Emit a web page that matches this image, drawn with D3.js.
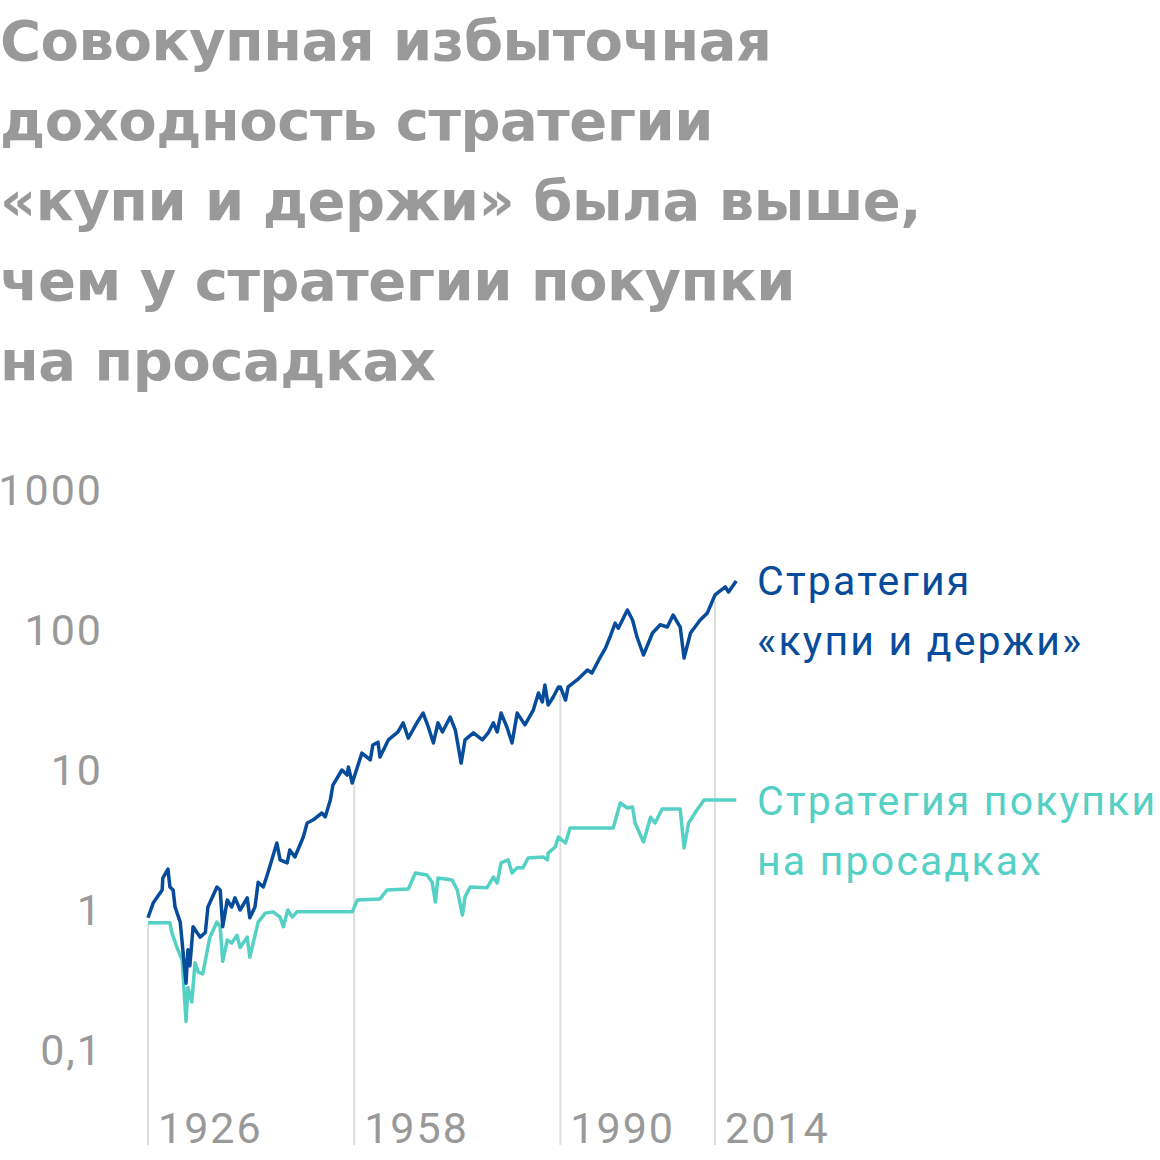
<!DOCTYPE html>
<html><head><meta charset="utf-8">
<script src="https://cdn.jsdelivr.net/npm/d3@7"></script>
<style>body{margin:0;background:#fff}</style>
</head><body><svg id="c" width="1160" height="1160"></svg>
<script>
const titleLines = ["Совокупная избыточная", "доходность стратегии", "«купи и держи» была выше,", "чем у стратегии покупки", "на просадках"];
const yTicks = [0.1, 1, 10, 100, 1000];
const xTicks = [1926, 1958, 1990, 2014];

const buyHoldYears = [1926,1926.8,1928.2,1928.3,1929.1,1929.4,1929.9,1930.2,1931,1931.9,1932.2,1932.5,1933,1933.6,1934.1,1934.9,1935.3,1936.7,1937.2,1937.6,1938.3,1939,1939.5,1940.3,1941.4,1941.8,1942.6,1943.1,1943.9,1944.6,1946,1946.5,1947.6,1948,1948.8,1950.1,1950.7,1951.6,1953,1953.5,1954.3,1954.7,1956.1,1956.9,1957.1,1957.7,1958.5,1959.2,1960.5,1960.9,1961.7,1962,1963.3,1964.8,1965.6,1966.4,1967.8,1968.7,1969.5,1970.3,1971,1971.7,1972.9,1973.7,1974.6,1975.2,1976.5,1977.9,1978.8,1979.6,1980.2,1980.8,1981.7,1982.5,1983.3,1984.5,1985.8,1986.6,1987.2,1987.6,1988.1,1988.9,1989.7,1990,1990.8,1991.2,1992.6,1994.2,1994.9,1996.2,1997,1997.7,1998.5,1999,2000.4,2001.2,2001.9,2002.9,2004.3,2005.5,2006.6,2007.5,2008.6,2009.2,2010.2,2011.7,2012.8,2014,2015.6,2016.1,2017.3];
const buyHoldValues = [0.88,1.12,1.39,1.69,1.96,1.46,1.39,1.05,0.82,0.30,0.52,0.40,0.76,0.69,0.64,0.69,1.05,1.46,1.39,0.76,1.18,1.05,1.22,1.0,1.22,0.88,1.05,1.58,1.46,1.84,3.01,2.28,2.17,2.68,2.39,3.32,4.18,4.39,4.93,4.62,6.11,7.81,10,9.2,10.5,8.07,10.5,13.2,11.8,15.1,15.8,12.4,16.4,18.7,21.7,16.9,22.0,25.5,20.3,15.6,21.7,18.7,23.9,19.3,11.2,16.4,18.4,16.4,18.4,21.7,18.7,25.5,20.3,15.6,25.5,21.0,26.8,35.5,30.6,40.5,29.1,33.2,39.2,39.2,31.6,39.2,44.0,51.8,49.3,64.1,74.3,89.1,112,103,139,118,89.1,66.3,95.2,109,105,128,105,63.1,95.2,118,132,178,203,187,224];

const dipYears = [1926,1929.4,1929.7,1930.5,1931.3,1931.9,1932.2,1932.8,1933.3,1933.8,1934.5,1935.6,1936.7,1937.2,1937.6,1938.3,1939,1939.8,1940.3,1941.4,1941.8,1943.1,1944.2,1945.4,1946.5,1947,1947.7,1948.4,1949.1,1957.7,1958.5,1962,1963.1,1966.4,1967.5,1969.3,1970.1,1970.6,1971,1973.2,1974,1974.8,1975.2,1976,1978.6,1979.6,1980.2,1980.8,1981.9,1982.5,1983.3,1984.2,1985,1987.3,1988,1988.1,1989.2,1989.7,1990.8,1991.5,1998.2,1999.3,2000.4,2001.2,2001.6,2002.9,2004,2004.7,2005.8,2008.6,2009.2,2009.9,2011.2,2012.3,2017.3];
const dipValues = [0.81,0.81,0.69,0.54,0.44,0.16,0.28,0.22,0.42,0.36,0.35,0.64,0.82,0.76,0.43,0.61,0.58,0.66,0.54,0.64,0.46,0.82,0.95,0.97,0.89,0.76,1.0,0.89,0.97,0.97,1.18,1.2,1.39,1.41,1.84,1.78,1.58,1.14,1.69,1.64,1.39,0.92,1.24,1.46,1.44,1.72,1.56,2.17,2.28,1.84,2.0,2.0,2.35,2.39,2.28,2.55,2.82,3.32,3.01,3.85,3.85,5.81,5.35,5.44,4.18,3.06,4.6,4.18,5.26,5.26,2.77,4.18,5.18,6.11,6.11];

const blue = "#074c9b", teal = "#55d0c5", grey = "#999999";
const svg = d3.select("#c");
const font = "Roboto, 'Noto Sans', sans-serif";

svg.append("g").selectAll("text").data(titleLines).enter().append("text")
  .attr("x", 0).attr("y", (d, i) => 60 + i * 80)
  .attr("font-family", "'DejaVu Sans', sans-serif").attr("font-weight", 700).attr("font-size", 56)
  .attr("letter-spacing", -0.5)
  .attr("fill", grey).text(d => d);

const x = d3.scaleLinear().domain([1926, 2014]).range([148, 715]);
const y = d3.scaleLog().domain([0.1, 1000]).range([1050, 490]);

// vertical grid from blue line down to bottom
const bhAt = d3.scaleLinear().domain(buyHoldYears).range(buyHoldValues);
svg.append("g").selectAll("line").data(xTicks).enter().append("line")
  .attr("x1", d => x(d)).attr("x2", d => x(d))
  .attr("y1", d => y(bhAt(d)) + 6).attr("y2", 1145)
  .attr("stroke", "#dddddd").attr("stroke-width", 2);

svg.append("g").selectAll("text").data(xTicks).enter().append("text")
  .attr("x", d => x(d) + 10).attr("y", 1143)
  .attr("font-family", font).attr("font-size", 43).attr("letter-spacing", 2).attr("fill", grey)
  .text(d => d);

svg.append("g").selectAll("text").data(yTicks).enter().append("text")
  .attr("x", 103).attr("y", d => y(d) + 15).attr("text-anchor", "end")
  .attr("font-family", font).attr("font-size", 43).attr("letter-spacing", 2).attr("fill", grey)
  .text(d => String(d).replace(".", ","));

const line = d3.line().x(d => x(d[0])).y(d => y(d[1]));
svg.append("path").datum(d3.zip(dipYears, dipValues)).attr("d", line)
  .attr("fill", "none").attr("stroke", teal).attr("stroke-width", 3.5).attr("stroke-linejoin", "round");
svg.append("path").datum(d3.zip(buyHoldYears, buyHoldValues)).attr("d", line)
  .attr("fill", "none").attr("stroke", blue).attr("stroke-width", 3.5).attr("stroke-linejoin", "round");

const legend = [
  {lines: ["Стратегия", "«купи и держи»"], y: 595, color: blue},
  {lines: ["Стратегия покупки", "на просадках"], y: 815, color: teal}
];
legend.forEach(l => {
  svg.append("g").selectAll("text").data(l.lines).enter().append("text")
    .attr("x", 757).attr("y", (d, i) => l.y + i * 60)
    .attr("font-family", font).attr("font-size", 41).attr("letter-spacing", 2.2).attr("fill", l.color)
    .text(d => d);
});
</script></body></html>
